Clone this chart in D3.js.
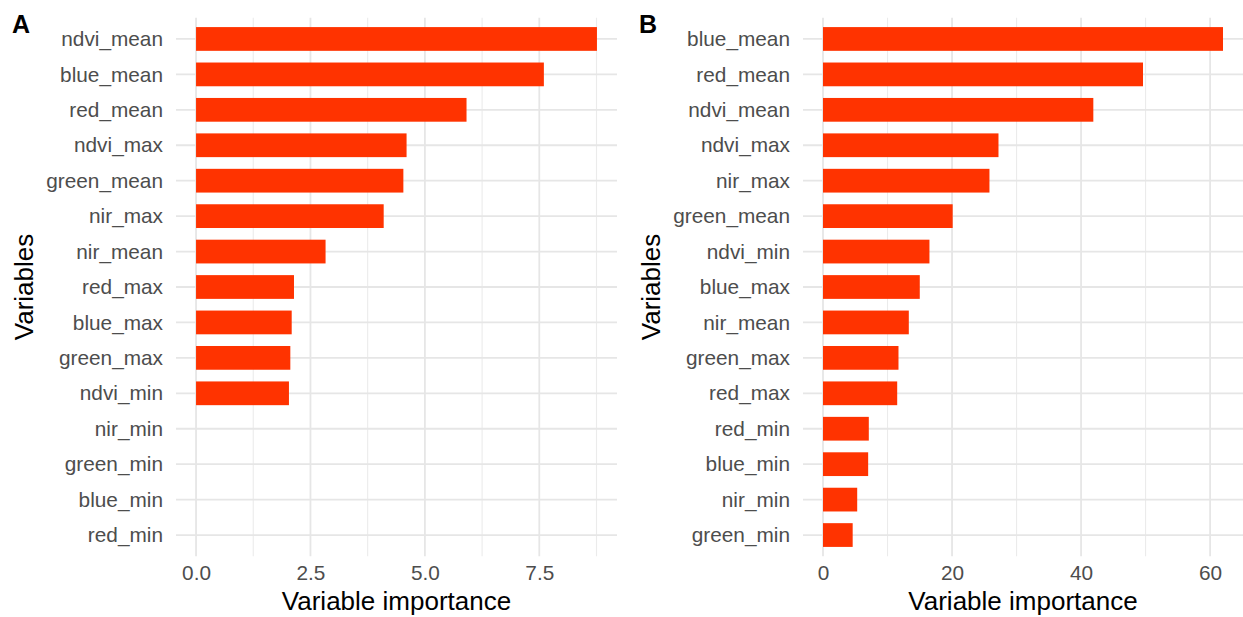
<!DOCTYPE html>
<meta charset="utf-8">
<script src="https://d3js.org/d3.v7.min.js"></script>
<style>
  body { margin: 0; background: #fff; }
  text { font-family: "Liberation Sans", Arial, Helvetica, sans-serif; }
</style>
<div id="my_dataviz"></div>
<script>

// data (top row first)
var varsA = ["ndvi_mean", "blue_mean", "red_mean", "ndvi_max", "green_mean", "nir_max", "nir_mean",
  "red_max", "blue_max", "green_max", "ndvi_min", "nir_min", "green_min", "blue_min", "red_min"];
var valsA = [8.76, 7.6, 5.91, 4.60, 4.53, 4.10, 2.83, 2.14, 2.09, 2.06, 2.03, 0, 0, 0, 0];

var varsB = ["blue_mean", "red_mean", "ndvi_mean", "ndvi_max", "nir_max", "green_mean", "ndvi_min",
  "blue_max", "nir_mean", "green_max", "red_max", "red_min", "blue_min", "nir_min", "green_min"];
var valsB = [62.0, 49.6, 41.9, 27.2, 25.8, 20.1, 16.5, 15.0, 13.3, 11.7, 11.5, 7.1, 7.0, 5.3, 4.6];

var ticksA = [0, 2.5, 5, 7.5];
var ticksB = [0, 20, 40, 60];

var W = 1243, H = 617;
var yTop = 17.7, yBottom = 556.3;

var svg = d3.select("#my_dataviz")
  .append("svg")
    .attr("width", W)
    .attr("height", H);

function panel(letter, vars, vals, ticks, fmt, left, right, letterX, titleX) {
  var maxV = d3.max(vals);
  var pad = maxV * 0.05;

  var x = d3.scaleLinear()
    .domain([-pad, maxV + pad])
    .range([left, right]);

  var y = d3.scalePoint()
    .domain(vars)
    .range([yTop, yBottom])
    .padding(0.6);

  var g = svg.append("g");

  // minor grid (halfway between ticks)
  var step = ticks[1] - ticks[0];
  var minor = ticks.map(function(t) { return t + step / 2; })
    .filter(function(t) { return x(t) <= right; });
  g.selectAll(".minor")
    .data(minor)
    .enter().append("line")
      .attr("x1", function(d) { return x(d); })
      .attr("x2", function(d) { return x(d); })
      .attr("y1", yTop)
      .attr("y2", yBottom)
      .style("stroke", "#ebebeb")
      .style("stroke-width", 1.1);

  // major grid
  g.selectAll(".vmajor")
    .data(ticks)
    .enter().append("line")
      .attr("x1", function(d) { return x(d); })
      .attr("x2", function(d) { return x(d); })
      .attr("y1", yTop)
      .attr("y2", yBottom)
      .style("stroke", "#e6e6e6")
      .style("stroke-width", 1.8);

  g.selectAll(".hmajor")
    .data(vars)
    .enter().append("line")
      .attr("x1", left)
      .attr("x2", right)
      .attr("y1", function(d) { return y(d); })
      .attr("y2", function(d) { return y(d); })
      .style("stroke", "#e6e6e6")
      .style("stroke-width", 1.8);

  // bars
  var bh = y.step() * 0.67;
  g.selectAll(".bar")
    .data(vars)
    .enter().append("rect")
      .attr("x", x(0))
      .attr("y", function(d) { return y(d) - bh / 2; })
      .attr("width", function(d, i) { return x(vals[i]) - x(0); })
      .attr("height", bh)
      .style("fill", "#ff3300");

  // axes
  g.append("g")
    .attr("transform", "translate(0," + yBottom + ")")
    .call(d3.axisBottom(x).tickValues(ticks).tickFormat(fmt).tickSize(0).tickPadding(9))
    .call(function(a) { a.select(".domain").remove(); })
    .selectAll("text")
      .style("font-size", "20.8px")
      .style("fill", "#4d4d4d")
      .attr("dy", "0.71em");

  g.append("g")
    .attr("transform", "translate(" + left + ",0)")
    .call(d3.axisLeft(y).tickSize(0).tickPadding(13))
    .call(function(a) { a.select(".domain").remove(); })
    .selectAll("text")
      .style("font-size", "20.8px")
      .style("fill", "#4d4d4d");

  // axis titles
  g.append("text")
    .attr("x", (left + right) / 2)
    .attr("y", 610)
    .attr("text-anchor", "middle")
    .style("font-size", "26px")
    .style("fill", "#000")
    .text("Variable importance");

  g.append("text")
    .attr("transform", "translate(" + titleX + "," + ((yTop + yBottom) / 2) + ") rotate(-90)")
    .attr("text-anchor", "middle")
    .style("font-size", "26px")
    .style("fill", "#000")
    .text("Variables");

  // panel letter
  g.append("text")
    .attr("x", letterX)
    .attr("y", 33)
    .style("font-size", "25px")
    .style("font-weight", "bold")
    .style("fill", "#000")
    .text(letter);
}

panel("A", varsA, valsA, ticksA, d3.format(".1f"), 176, 617, 12, 33);
panel("B", varsB, valsB, ticksB, d3.format("d"), 803, 1243, 639, 660);

</script>
